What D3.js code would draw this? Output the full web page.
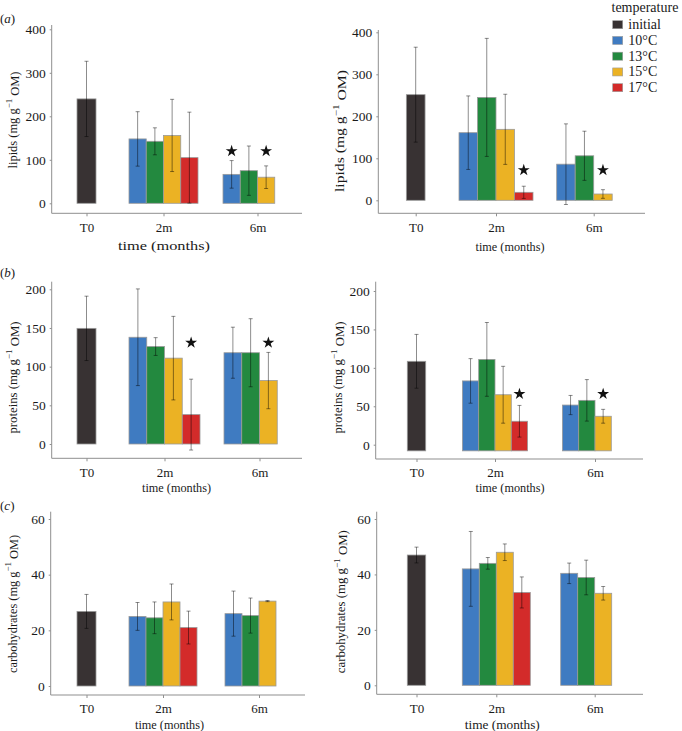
<!DOCTYPE html>
<html><head><meta charset="utf-8">
<script src="https://cdn.jsdelivr.net/npm/d3@7"></script>
<style>
html,body{margin:0;padding:0;background:#fff;}
svg text{font-family:"Liberation Serif","Times New Roman",serif;fill:#1a1a1a;}
</style></head>
<body><svg id="chart" width="682" height="731"></svg>
<script>
// ---------- data ----------
const categories = ["T0", "2m", "6m"];
const temperatures = ["initial", "10°C", "13°C", "15°C", "17°C"];
const tempColors = ["#383233", "#3f7bc1", "#23893f", "#ebb224", "#d32b2a"];
const dodgeSlots = ["10°C", "13°C", "15°C", "17°C"];

// bars in order: T0 initial | 2m 10,13,15,17 | 6m 10,13,15
const barCategory = ["T0", "2m", "2m", "2m", "2m", "6m", "6m", "6m"];
const barTemperature = ["initial", "10°C", "13°C", "15°C", "17°C", "10°C", "13°C", "15°C"];

const lipidsLeftMean = [240, 148, 142.5, 156, 105, 66.5, 75, 60];
const lipidsLeftErr = [86.5, 62.6, 31, 83, 104.5, 31.7, 56.7, 26];
const lipidsLeftStars = [["6m", "10°C", 120], ["6m", "15°C", 120]];

const lipidsRightMean = [251.5, 161, 245, 169, 19, 86, 106, 15];
const lipidsRightErr = [113, 87.5, 140.5, 83.5, 14.5, 96, 58.5, 10.3];
const lipidsRightStars = [["2m", "17°C", 72], ["6m", "15°C", 72]];

const proteinsLeftMean = [149.5, 138, 126, 111, 38, 118, 118, 82];
const proteinsLeftErr = [41.6, 62.5, 11.5, 54, 45.8, 33, 44, 36.4];
const proteinsLeftStars = [["2m", "17°C", 131], ["6m", "15°C", 131]];

const proteinsRightMean = [108.5, 83, 111, 65, 30.5, 51.6, 57.7, 37];
const proteinsRightErr = [35, 29, 48, 37, 20.6, 12.5, 27, 9];
const proteinsRightStars = [["2m", "17°C", 66], ["6m", "15°C", 66]];

const carbsLeftMean = [26.8, 25, 24.5, 30.2, 21, 26, 25.3, 30.5];
const carbsLeftErr = [6.1, 5, 5.7, 6.45, 5.9, 8.1, 6.3, 0.2];

const carbsRightMean = [47, 42, 44, 48, 33.5, 40.4, 38.9, 33.2];
const carbsRightErr = [2.85, 13.5, 2.1, 3, 5.6, 3.7, 6.25, 2.45];

const lipidsTicks = [0, 100, 200, 300, 400];
const proteinsTicks = [0, 50, 100, 150, 200];
const carbsTicks = [0, 20, 40, 60];

const lipidsTitle = "lipids";
const proteinsTitle = "proteins";
const carbsTitle = "carbohydrates";
const xTitle = "time (months)";
const legendTitle = "temperature";

// ---------- layout ----------
// xt / yt: [x, y, font size, stretched length]
const panels = [
  {mean: lipidsLeftMean, err: lipidsLeftErr, stars: lipidsLeftStars, ticks: lipidsTicks, title: lipidsTitle,
   axX: 51.7, axTop: 25, axY: 213.3, axRight: 302, yPx: [203.3, 29.3], yDom: [0, 400],
   centers: [86.5, 163.5, 257.5], slot: 17.25, t0w: 19, base: 0,
   xt: [164, 245.5, 12.5, 92], yt: [13, 120, 12.5, 97], tag: ["(a)", 18]},
  {mean: lipidsRightMean, err: lipidsRightErr, stars: lipidsRightStars, ticks: lipidsTicks, title: lipidsTitle,
   axX: 378.3, axTop: 30, axY: 213.3, axRight: 645, yPx: [200.3, 32.3], yDom: [0, 400],
   centers: [415.7, 496, 593.7], slot: 18.5, t0w: 18.7, base: 0,
   xt: [510, 246.5, 12.5, 69], yt: [340, 131, 12.5, 122], tag: null},
  {mean: proteinsLeftMean, err: proteinsLeftErr, stars: proteinsLeftStars, ticks: proteinsTicks, title: proteinsTitle,
   axX: 51.7, axTop: 281.7, axY: 458.3, axRight: 302, yPx: [444, 289.3], yDom: [0, 200],
   centers: [86.5, 164.5, 259.5], slot: 17.75, t0w: 19, base: 0,
   xt: [176.5, 487.5, 12.5, 69], yt: [13, 377.5, 12.5, 112], tag: ["(b)", 271.7]},
  {mean: proteinsRightMean, err: proteinsRightErr, stars: proteinsRightStars, ticks: proteinsTicks, title: proteinsTitle,
   axX: 375.7, axTop: 281.7, axY: 459, axRight: 643, yPx: [444.7, 291], yDom: [0, 200],
   centers: [416.5, 495, 595], slot: 16.3, t0w: 18.4, base: -8,
   xt: [510, 487.5, 12.5, 69], yt: [338, 377.5, 12.5, 112], tag: null},
  {mean: carbsLeftMean, err: carbsLeftErr, stars: [], ticks: carbsTicks, title: carbsTitle,
   axX: 50.7, axTop: 511.7, axY: 695, axRight: 305, yPx: [686, 519], yDom: [0, 60],
   centers: [86.5, 163, 259], slot: 17, t0w: 19, base: 0,
   xt: [169.5, 724.5, 12.5, 69], yt: [12.5, 604, 12.5, 138], tag: ["(c)", 505]},
  {mean: carbsRightMean, err: carbsRightErr, stars: [], ticks: carbsTicks, title: carbsTitle,
   axX: 376.7, axTop: 511.7, axY: 694.3, axRight: 643, yPx: [685.3, 519], yDom: [0, 60],
   centers: [416.5, 496.3, 594.7], slot: 17, t0w: 18.4, base: 0,
   xt: [502.3, 724.5, 12.5, 75], yt: [341, 601.7, 12.5, 143], tag: null}
];

const svg = d3.select("#chart");
const color = d3.scaleOrdinal().domain(temperatures).range(tempColors);
const axisColor = "#8f8f8f";
const serif = '"Liberation Serif","Times New Roman",serif';

panels.forEach(p => {
  const g = svg.append("g");
  const y = d3.scaleLinear().domain(p.yDom).range(p.yPx);
  const x = d3.scaleLinear().domain([0, 1, 2]).range(p.centers);
  const dodge = d3.scaleBand().domain(dodgeSlots).range([-2 * p.slot, 2 * p.slot]);
  const bx = (cat, t) => cat === "T0" ? x(categories.indexOf(cat)) - p.t0w / 2
                                      : x(categories.indexOf(cat)) + dodge(t);
  const bw = cat => cat === "T0" ? p.t0w : dodge.bandwidth();
  const bars = barCategory.map((c, i) => ({c, t: barTemperature[i], m: p.mean[i], e: p.err[i]}));

  // axes lines
  g.append("line").attr("x1", p.axX).attr("x2", p.axX).attr("y1", p.axTop).attr("y2", p.axY)
    .attr("stroke", axisColor).attr("stroke-width", 1);
  g.append("line").attr("x1", p.axX).attr("x2", p.axRight).attr("y1", p.axY).attr("y2", p.axY)
    .attr("stroke", axisColor).attr("stroke-width", 1);

  const ya = g.append("g").attr("transform", `translate(${p.axX},0)`)
    .call(d3.axisLeft(y).tickValues(p.ticks).tickSize(2).tickPadding(4));
  ya.select(".domain").remove();
  ya.selectAll(".tick line").attr("stroke", axisColor);
  ya.selectAll(".tick text").style("font-size", "13.5px").style("font-family", serif).attr("fill", "#1a1a1a");

  const xa = g.append("g").attr("transform", `translate(0,${p.axY})`)
    .call(d3.axisBottom(x).tickValues([0, 1, 2]).tickFormat(i => categories[i]).tickSize(3).tickPadding(6));
  xa.select(".domain").remove();
  xa.selectAll(".tick line").attr("stroke", axisColor);
  xa.selectAll(".tick text").style("font-size", "13px").style("font-family", serif).attr("fill", "#1a1a1a");

  // bars
  g.selectAll("rect.bar").data(bars).join("rect").attr("class", "bar")
    .attr("x", d => bx(d.c, d.t)).attr("width", d => bw(d.c))
    .attr("y", d => y(d.m)).attr("height", d => y(p.base) - y(d.m))
    .attr("fill", d => color(d.t)).attr("stroke", "#9a9a9a").attr("stroke-width", 0.8);

  // error bars
  const eb = g.selectAll("g.eb").data(bars).join("g").attr("class", "eb")
    .attr("stroke", "#000").attr("stroke-opacity", 0.45).attr("stroke-width", 1);
  const cx = d => bx(d.c, d.t) + bw(d.c) / 2;
  eb.append("line").attr("x1", cx).attr("x2", cx).attr("y1", d => y(d.m + d.e)).attr("y2", d => y(d.m - d.e));
  eb.append("line").attr("x1", d => cx(d) - 2).attr("x2", d => cx(d) + 2).attr("y1", d => y(d.m + d.e)).attr("y2", d => y(d.m + d.e));
  eb.append("line").attr("x1", d => cx(d) - 2).attr("x2", d => cx(d) + 2).attr("y1", d => y(d.m - d.e)).attr("y2", d => y(d.m - d.e));

  // stars
  g.selectAll("path.star").data(p.stars).join("path").attr("class", "star")
    .attr("d", d3.symbol(d3.symbolStar, 44))
    .attr("transform", d => `translate(${bx(d[0], d[1]) + bw(d[0]) / 2},${y(d[2])})`)
    .attr("fill", "#111");

  // axis titles
  g.append("text").attr("x", p.xt[0] - p.xt[3] / 2).attr("y", p.xt[1])
    .attr("dominant-baseline", "central").style("font-size", p.xt[2] + "px")
    .attr("textLength", p.xt[3]).attr("lengthAdjust", "spacingAndGlyphs").text(xTitle);
  const yt = g.append("text").attr("transform", `translate(${p.yt[0]},${p.yt[1]}) rotate(-90)`)
    .attr("x", -p.yt[3] / 2).attr("y", 0)
    .attr("dominant-baseline", "central").style("font-size", p.yt[2] + "px")
    .attr("textLength", p.yt[3]).attr("lengthAdjust", "spacingAndGlyphs");
  yt.append("tspan").text(p.title + " (mg g");
  yt.append("tspan").attr("dy", "-0.45em").style("font-size", "0.72em").text("−1");
  yt.append("tspan").attr("dy", "0.45em").text(" OM)");

  if (p.tag) {
    const tg = svg.append("text").attr("x", 0).attr("y", p.tag[1]).attr("dominant-baseline", "central")
      .style("font-size", "13px");
    tg.append("tspan").text("(");
    tg.append("tspan").style("font-style", "italic").text(p.tag[0].slice(1, 2));
    tg.append("tspan").text(")");
  }
});

// legend
const lg = svg.append("g");
lg.append("text").attr("x", 611.5).attr("y", 7.5).attr("dominant-baseline", "central")
  .style("font-size", "14px").text(legendTitle);
const ly = d3.scalePoint().domain(temperatures).range([24.7, 87.7]);
lg.selectAll("rect").data(temperatures).join("rect")
  .attr("x", 612.7).attr("y", d => ly(d) - 4).attr("width", 10).attr("height", 8)
  .attr("fill", d => color(d)).attr("stroke", "#9a9a9a").attr("stroke-width", 0.6);
lg.selectAll("text.lab").data(temperatures).join("text").attr("class", "lab")
  .attr("x", 628.3).attr("y", d => ly(d)).attr("dominant-baseline", "central")
  .style("font-size", "14px").text(d => d);
</script></body></html>
